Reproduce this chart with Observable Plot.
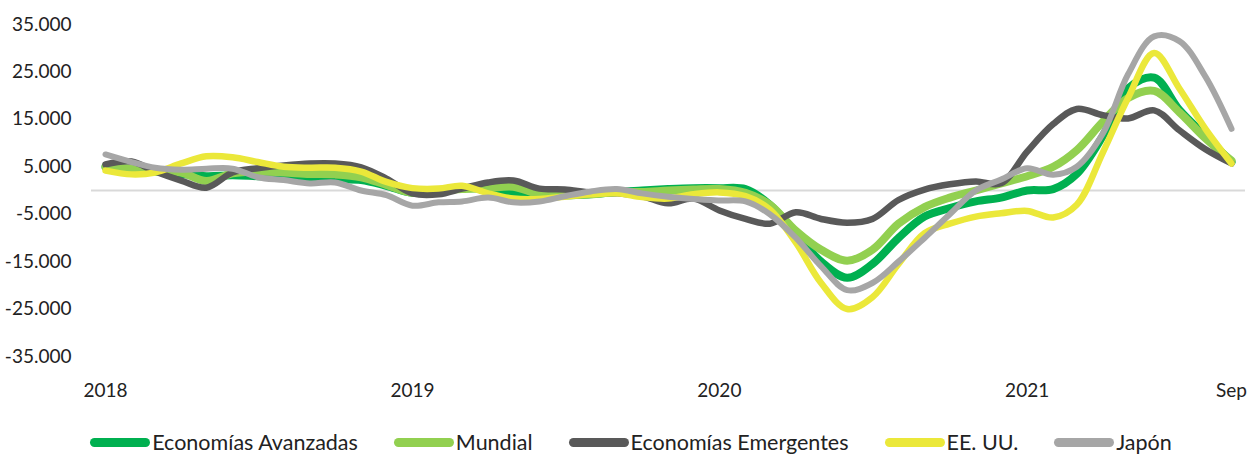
<!DOCTYPE html>
<html><head><meta charset="utf-8">
<script src="https://cdn.jsdelivr.net/npm/d3@7"></script>
<script src="https://cdn.jsdelivr.net/npm/@observablehq/plot@0.6"></script>
<style>
body{margin:0;background:#fff;font-family:Lato, sans-serif;}
#legend{display:flex;justify-content:center;align-items:center;gap:36px;margin-top:25px;font-size:21.5px;color:#222;line-height:24px;padding-left:10px}
.item{display:flex;align-items:center}
.sw{width:60px;height:9px;border-radius:5px;margin-right:2px}
</style></head><body><div id="chart"></div><div id="legend"></div>
<script>
const months = d3.utcMonths(new Date(Date.UTC(2018,0,1)), new Date(Date.UTC(2021,9,1)));
const avanzadas = [5000, 4500, 4000, 3500, 3000, 3200, 3000, 2800, 2500, 2300, 2200, 1000, -500,
 -200, 500, 200, -600, -1300, -1000, -800, -300, 0, 300, 500, 500, 300,
 -3000, -9000, -15000, -18400, -15500, -10000, -5500, -3700, -2300, -1500, 0, 300, 3500, 11500, 21500, 23800, 17000, 11500, 6000];
const mundial = [5000, 4600, 4200, 3800, 2000, 3600, 4000, 3800, 3500, 3400, 2800, 1200, -500,
 0, 300, 500, 800, -800, -1000, -800, -300, -300, 0, 200, 300, -500,
 -3000, -8500, -12500, -14800, -12500, -7000, -3500, -1500, 0, 1500, 3000, 5000, 8500, 14500, 19500, 21000, 16500, 11000, 6300];
const emergentes = [5500, 6100, 4000, 2100, 600, 3800, 4700, 5300, 5700, 5700, 4900, 2500, -600,
 -800, 400, 1700, 2100, 400, 200, -400, -600, -1200, -2700, -1700, -4200, -6000,
 -7000, -4600, -6000, -6800, -6000, -2000, 200, 1300, 1900, 1500, 8200, 14000, 17200, 15900, 15200, 16900, 12700, 8700, 5700];
const eeuu = [4200, 3400, 3800, 5700, 7200, 7000, 6000, 5000, 4800, 4800, 4000, 1800, 500,
 400, 1000, -600, -1700, -1800, -1300, -800, -600, -1400, -1700, -800, -400, -1200,
 -4000, -11000, -19500, -25000, -22500, -15500, -9000, -7000, -5500, -4800, -4300, -5700, -3000, 8000, 19500, 29000, 21500, 13000, 5700];
const japon = [7600, 6000, 4800, 4400, 4600, 4600, 2800, 2200, 1500, 1700, 0, -1000, -3200,
 -2500, -2300, -1500, -2500, -2300, -1200, -200, 300, -600, -1300, -1800, -2100, -2300,
 -5000, -10000, -16000, -21000, -19500, -15000, -10000, -5000, 0, 2300, 4700, 3300, 5000, 12000, 24500, 32500, 31500, 24000, 13000];

const seriesNames = ["Economías Avanzadas", "Mundial", "Economías Emergentes", "EE. UU.", "Japón"];
const seriesValues = [avanzadas, mundial, emergentes, eeuu, japon];
const seriesColors = ["#00B050", "#92D050", "#595959", "#EBE83A", "#A6A6A6"];
const seriesWidths = [8, 8, 6.5, 6.5, 6];

const yTicks = [-35000, -25000, -15000, -5000, 5000, 15000, 25000, 35000];
const xTickDates = [new Date(Date.UTC(2018,0,1)), new Date(Date.UTC(2019,0,1)), new Date(Date.UTC(2020,0,1)), new Date(Date.UTC(2021,0,1)), new Date(Date.UTC(2021,8,1))];
const xTickLabels = ["2018", "2019", "2020", "2021", "Sep"];

const loc = d3.formatLocale({decimal: ",", thousands: ".", grouping: [3], currency: ["", ""], minus: "-"});
const fmt = loc.format(",");
const xLabelMap = new Map(xTickDates.map((d, i) => [+d, xTickLabels[i]]));

const lineMarks = seriesNames.map((name, k) =>
  Plot.line(months.map((d, i) => ({date: d, value: seriesValues[k][i]})), {
    x: "date", y: "value", stroke: seriesColors[k], strokeWidth: seriesWidths[k],
    curve: "catmull-rom", strokeLinecap: "round", strokeLinejoin: "round"
  })
);

const chart = Plot.plot({
  width: 1252, height: 405,
  marginLeft: 91, marginRight: 7, marginTop: 24, marginBottom: 49,
  x: {type: "utc", domain: [months[0], months[months.length - 1]], insetLeft: 14, insetRight: 14, label: null},
  y: {domain: [-35000, 35000], label: null},
  style: {fontFamily: "Lato, sans-serif", fontSize: "19px", color: "#222", background: "#fff"},
  marks: [
    Plot.ruleY([0], {stroke: "#D9D9D9", strokeWidth: 2}),
    ...lineMarks,
    Plot.axisY({ticks: yTicks, tickSize: 0, tickPadding: 20, tickFormat: fmt, fontSize: 19, label: null}),
    Plot.axisX({ticks: xTickDates, tickSize: 0, tickPadding: 27, tickFormat: d => xLabelMap.get(+d), fontSize: 19, label: null})
  ]
});
document.getElementById("chart").appendChild(chart);

const legend = document.getElementById("legend");
seriesNames.forEach((name, k) => {
  const item = document.createElement("div");
  item.className = "item";
  const sw = document.createElement("span");
  sw.className = "sw";
  sw.style.background = seriesColors[k];
  const t = document.createElement("span");
  t.textContent = name;
  item.appendChild(sw); item.appendChild(t);
  legend.appendChild(item);
});
</script></body></html>
